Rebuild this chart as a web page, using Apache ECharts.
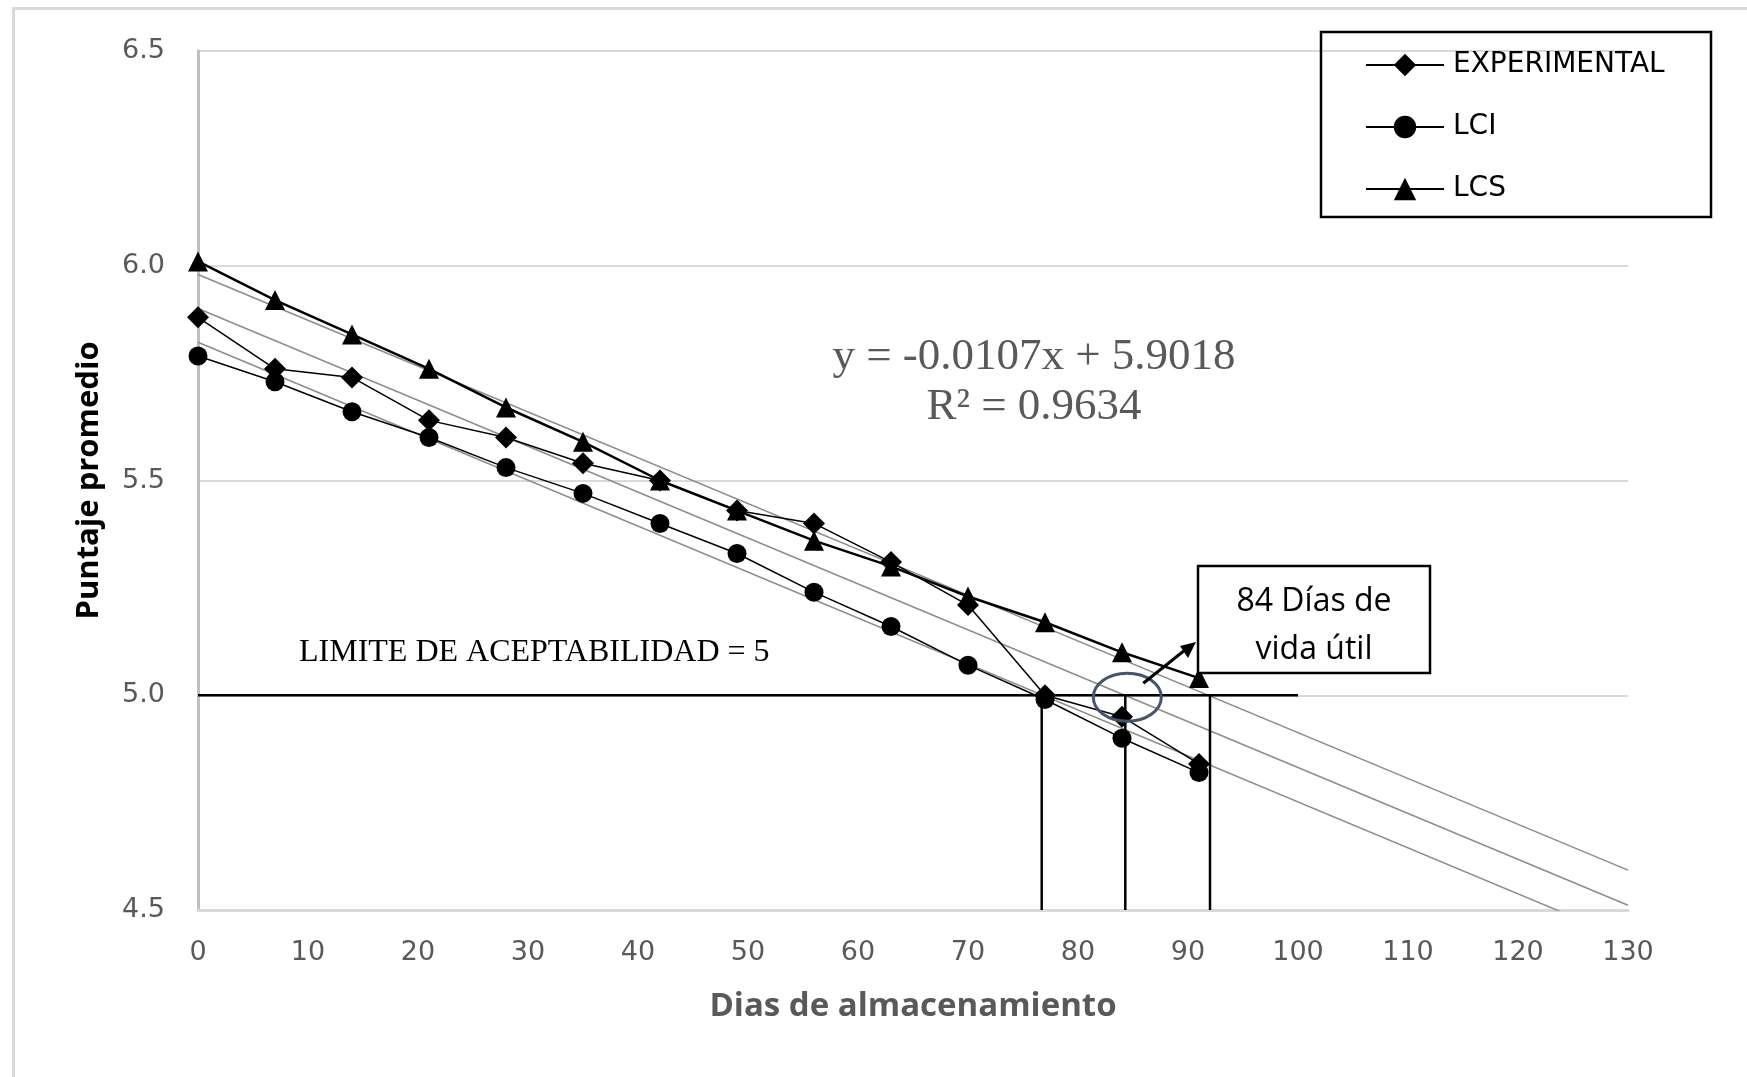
<!DOCTYPE html>
<html>
<head>
<meta charset="utf-8">
<script src="https://cdn.jsdelivr.net/npm/echarts@6/dist/echarts.min.js"></script>
<style>html,body{margin:0;padding:0;background:#fff}#c{width:1747px;height:1077px}</style>
</head>
<body>
<div id="c"></div>
<script>
const days = [0, 7, 14, 21, 28, 35, 42, 49, 56, 63, 70, 77, 84, 91];
const experimental = [5.88, 5.76, 5.74, 5.64, 5.60, 5.54, 5.50, 5.43, 5.40, 5.31, 5.21, 5.00, 4.95, 4.84];
const lci = [5.79, 5.73, 5.66, 5.60, 5.53, 5.47, 5.40, 5.33, 5.24, 5.16, 5.07, 4.99, 4.90, 4.82];
const lcs = [6.01, 5.92, 5.84, 5.76, 5.67, 5.59, 5.50, 5.43, 5.36, 5.30, 5.23, 5.17, 5.10, 5.04];
const xTicks = [0, 10, 20, 30, 40, 50, 60, 70, 80, 90, 100, 110, 120, 130];
const yTicks = [4.5, 5.0, 5.5, 6.0, 6.5];
const limitValue = 5;
const limitRange = [0, 100];
const cutoffDays = [76.7, 84.3, 92];
const trendRange = [0, 130];
const equationText = ['y = -0.0107x + 5.9018', 'R² = 0.9634'];
const limitText = 'LIMITE DE ACEPTABILIDAD = 5';
const shelfText = ['84 Días de', 'vida útil'];
const shelfDay = 84.3;

function fit(xs, ys) {
  const n = xs.length;
  let sx = 0, sy = 0, sxx = 0, sxy = 0;
  for (let i = 0; i < n; i++) { sx += xs[i]; sy += ys[i]; sxx += xs[i] * xs[i]; sxy += xs[i] * ys[i]; }
  const b = (n * sxy - sx * sy) / (n * sxx - sx * sx);
  const a = (sy - b * sx) / n;
  return trendRange.map(x => [x, a + b * x]);
}
const pair = (ys) => days.map((d, i) => [d, ys[i]]);

const chart = echarts.init(document.getElementById('c'), null, {renderer: 'canvas'});
const sans = '"Open Sans", "Liberation Sans", sans-serif';
const dv = '"DejaVu Sans", sans-serif';
const serif = '"Liberation Serif", "DejaVu Serif", serif';

const trendStyle = {color: '#8c8c8c', width: 1.5};
const series = [
  {name: 'trendExp', type: 'line', data: fit(days, experimental), symbol: 'none', lineStyle: trendStyle, silent: true, z: 1},
  {name: 'trendLci', type: 'line', data: fit(days, lci), symbol: 'none', lineStyle: trendStyle, silent: true, z: 1},
  {name: 'trendLcs', type: 'line', data: fit(days, lcs), symbol: 'none', lineStyle: trendStyle, silent: true, z: 1},
  {name: 'limit', type: 'line', data: limitRange.map(x => [x, limitValue]), symbol: 'none', lineStyle: {color: '#000', width: 2.5}, silent: true, z: 2},
];
cutoffDays.forEach((d, i) => {
  series.push({name: 'cut' + i, type: 'line', data: [[d, limitValue], [d, yTicks[0]]], symbol: 'none', lineStyle: {color: '#000', width: 2.5}, silent: true, z: 2});
});
series.push(
  {name: 'EXPERIMENTAL', type: 'line', data: pair(experimental), symbol: 'diamond', symbolSize: 22,
   itemStyle: {color: '#000'}, lineStyle: {color: '#000', width: 1.5}, z: 5},
  {name: 'LCI', type: 'line', data: pair(lci), symbol: 'circle', symbolSize: 19,
   itemStyle: {color: '#000'}, lineStyle: {color: '#000', width: 1.5}, z: 5},
  {name: 'LCS', type: 'line', data: pair(lcs), symbol: 'triangle', symbolSize: 20,
   itemStyle: {color: '#000'}, lineStyle: {color: '#000', width: 2.5}, z: 5}
);

chart.setOption({
  animation: false,
  backgroundColor: '#fff',
  grid: {left: 198, right: 119, top: 51, bottom: 167, containLabel: false},
  xAxis: {
    type: 'value', min: 0, max: 130, interval: 10,
    name: 'Dias de almacenamiento', nameLocation: 'middle', nameGap: 80,
    nameTextStyle: {fontFamily: sans, fontWeight: 'bold', fontSize: 33, color: '#595959'},
    axisLine: {show: true, lineStyle: {color: '#d9d9d9', width: 3}},
    axisTick: {show: false},
    splitLine: {show: false},
    axisLabel: {fontFamily: dv, fontSize: 27, color: '#595959', margin: 29,
      formatter: v => xTicks.includes(v) ? String(v) : ''}
  },
  yAxis: {
    type: 'value', min: 4.5, max: 6.5, interval: 0.5,
    name: 'Puntaje promedio', nameLocation: 'middle', nameGap: 93, nameRotate: 90,
    nameTextStyle: {fontFamily: sans, fontWeight: 'bold', fontSize: 31, color: '#000'},
    axisLine: {show: true, lineStyle: {color: '#bfbfbf', width: 3}},
    axisTick: {show: false},
    splitLine: {show: true, lineStyle: {color: '#d9d9d9', width: 2}},
    axisLabel: {fontFamily: dv, fontSize: 27, color: '#595959', margin: 33,
      formatter: v => yTicks.some(t => Math.abs(t - v) < 1e-9) ? v.toFixed(1) : ''}
  },
  legend: {
    data: ['EXPERIMENTAL', 'LCI', 'LCS'],
    orient: 'vertical', left: 1320, top: 30,
    padding: [21, 10, 18, 45], itemGap: 34, itemWidth: 78, itemHeight: 28,
    borderWidth: 0,
    textStyle: {fontFamily: dv, fontSize: 28, color: '#000', padding: [0, 0, 0, 4]},
    selectedMode: false
  },
  series: series
});

const p = chart.convertToPixel({gridIndex: 0}, [shelfDay, limitValue]);
chart.setOption({
  graphic: [
    {type: 'rect', left: 11, top: 6, shape: {width: 1760, height: 1100}, style: {fill: 'none', stroke: '#d9d9d9', lineWidth: 3}, silent: true, z: -1},
    {type: 'rect', shape: {x: 1321, y: 32, width: 390, height: 185}, style: {fill: 'none', stroke: '#000', lineWidth: 2.5}, silent: true, z: 20},
    {type: 'text', x: 1034, y: 357, style: {text: equationText[0], font: '45px ' + serif, fill: '#595959', align: 'center', verticalAlign: 'middle'}, z: 10},
    {type: 'text', x: 1034, y: 407, style: {text: equationText[1], font: '45px ' + serif, fill: '#595959', align: 'center', verticalAlign: 'middle'}, z: 10},
    {type: 'text', x: 299, y: 653, style: {text: limitText, font: '32px ' + serif, fill: '#000', align: 'left', verticalAlign: 'middle'}, z: 10},
    {type: 'rect', shape: {x: 1198, y: 566, width: 232, height: 107}, style: {fill: '#fff', stroke: '#000', lineWidth: 2.5}, z: 10},
    {type: 'text', x: 1314, y: 602, style: {text: shelfText[0], font: '32px ' + sans, fill: '#000', align: 'center', verticalAlign: 'middle'}, z: 11},
    {type: 'text', x: 1314, y: 650, style: {text: shelfText[1], font: '32px ' + sans, fill: '#000', align: 'center', verticalAlign: 'middle'}, z: 11},
    {type: 'ellipse', shape: {cx: p[0] + 2, cy: p[1] + 2, rx: 34, ry: 24}, style: {fill: 'none', stroke: '#44546a', lineWidth: 3}, z: 12},
    {type: 'line', shape: {x1: p[0] + 18, y1: p[1] - 12, x2: 1190, y2: 646}, style: {stroke: '#000', lineWidth: 3}, z: 12},
    {type: 'polygon', shape: {points: [[1196, 642], [1180, 646], [1188, 658]]}, style: {fill: '#000'}, z: 12}
  ]
});
</script>
</body>
</html>
